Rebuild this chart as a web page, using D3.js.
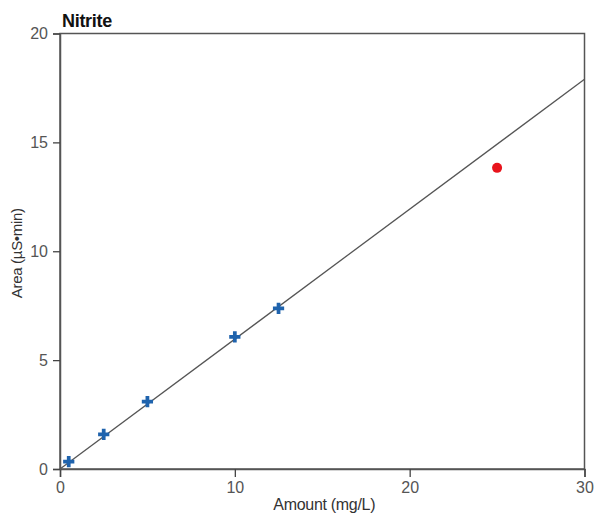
<!DOCTYPE html>
<html>
<head>
<meta charset="utf-8">
<script src="https://cdn.jsdelivr.net/npm/d3@7"></script>
<style>
  body { margin: 0; background: #fff; }
  text { font-family: "Liberation Sans", Arial, sans-serif; }
</style>
</head>
<body>
<div id="chart"></div>
<script>
// calibration standards
var amounts = [0.5, 2.5, 5, 10, 12.5];
var areas = [0.34, 1.59, 3.09, 6.07, 7.38];
// outlier
var outlierAmount = [25];
var outlierArea = [13.83];
// fit line endpoints
var fitX = [0, 30];
var fitY = [0, 17.9];
var xTicks = [0, 10, 20, 30];
var yTicks = [0, 5, 10, 15, 20];

var width = 598, height = 513;
var margin = {top: 33.5, right: 13.5, bottom: 44, left: 60};

var svg = d3.select('#chart').append('svg')
    .attr('width', width)
    .attr('height', height);

var x = d3.scaleLinear().domain([0, 30]).range([margin.left, width - margin.right]);
var y = d3.scaleLinear().domain([0, 20]).range([height - margin.bottom, margin.top]);

// frame
svg.append('rect')
    .attr('x', x(0)).attr('y', y(20))
    .attr('width', x(30) - x(0)).attr('height', y(0) - y(20))
    .attr('fill', 'none').attr('stroke', '#555').attr('stroke-width', 1.5);

var xAxis = svg.append('g')
    .attr('transform', `translate(0, ${y(0)})`)
    .call(d3.axisBottom(x).tickValues(xTicks).tickSize(8).tickPadding(5));
var yAxis = svg.append('g')
    .attr('transform', `translate(${x(0)}, 0)`)
    .call(d3.axisLeft(y).tickValues(yTicks).tickSize(7).tickPadding(5));

[xAxis, yAxis].forEach(function(a) {
  a.select('.domain').attr('stroke', '#555').attr('stroke-width', 1.5);
  a.selectAll('.tick line').attr('stroke', '#444').attr('stroke-width', 1.3);
  a.selectAll('.tick text')
    .attr('fill', '#555')
    .attr('font-size', '16px')
    .attr('font-family', '"Liberation Sans", Arial, sans-serif');
});

// fit line
svg.append('line')
    .attr('x1', x(fitX[0])).attr('y1', y(fitY[0]))
    .attr('x2', x(fitX[1])).attr('y2', y(fitY[1]))
    .attr('stroke', '#555').attr('stroke-width', 1.3);

// standards
svg.selectAll('.std')
    .data(amounts)
    .join('path')
    .attr('class', 'std')
    .attr('transform', (d, i) => `translate(${x(d)}, ${y(areas[i])})`)
    .attr('d', d3.symbol().type(d3.symbolCross).size(70))
    .attr('fill', '#1f63ad');

// outlier
svg.selectAll('.out')
    .data(outlierAmount)
    .join('circle')
    .attr('class', 'out')
    .attr('cx', d => x(d))
    .attr('cy', (d, i) => y(outlierArea[i]))
    .attr('r', 5)
    .attr('fill', '#e8141c');

// title
svg.append('text')
    .attr('x', 62).attr('y', 27)
    .attr('font-size', '18px').attr('font-weight', 'bold')
    .attr('fill', '#111')
    .attr('letter-spacing', '-0.3px')
    .text('Nitrite');

// axis titles
svg.append('text')
    .attr('x', (x(0) + x(30)) / 2 + 2).attr('y', 510)
    .attr('text-anchor', 'middle')
    .attr('font-size', '16px').attr('fill', '#333')
    .attr('letter-spacing', '-0.3px')
    .text('Amount (mg/L)');

svg.append('text')
    .attr('transform', `translate(21.5, ${(y(0) + y(20)) / 2 + 2}) rotate(-90)`)
    .attr('text-anchor', 'middle')
    .attr('font-size', '15px').attr('fill', '#333')
    .attr('letter-spacing', '-0.3px')
    .text('Area (µS•min)');
</script>
</body>
</html>
